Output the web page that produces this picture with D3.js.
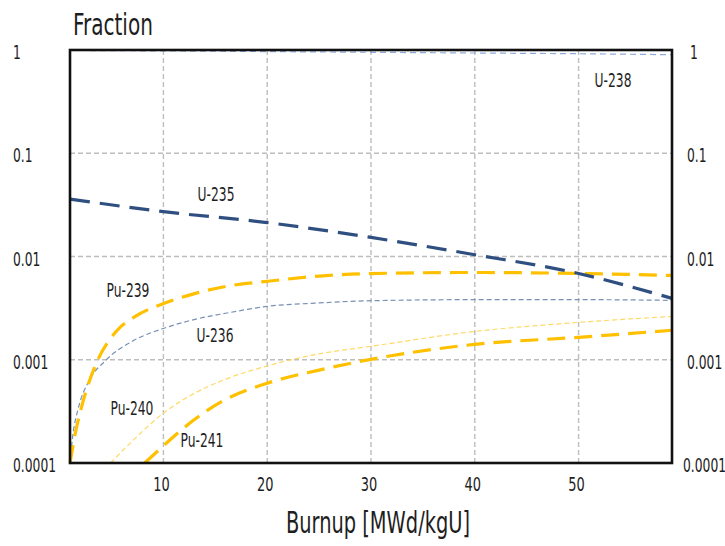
<!DOCTYPE html>
<html>
<head>
<meta charset="utf-8">
<script src="https://cdn.jsdelivr.net/npm/d3@7"></script>
<style>
body { margin: 0; background: #fff; }
text { font-family: "DejaVu Sans Condensed", "DejaVu Sans", sans-serif; font-stretch: condensed; fill: #1e1e1e; }
</style>
</head>
<body>
<div id="chart"></div>
<script>
// tick labels
var xTicks = [10, 20, 30, 40, 50];
var yTicks = [1, 0.1, 0.01, 0.001, 0.0001];
var yTickLabels = ["1", "0.1", "0.01", "0.001", "0.0001"];

// nuclide fractions vs burnup, [burnup MWd/kgU, fraction]
var u238 = [[1, 0.99], [10, 0.98], [20, 0.965], [30, 0.95], [40, 0.935], [50, 0.92], [59, 0.9]];
var u235 = [[1, 0.036], [10, 0.0272], [20, 0.0213], [30, 0.0153], [40, 0.0104], [50, 0.00685], [59, 0.00393]];
var pu239 = [[1, 0.0001], [1.5, 0.000191], [2, 0.000316], [2.5, 0.000479], [3.6, 0.000955], [5.4, 0.00186],
             [7.3, 0.00263], [9.9, 0.00347], [13, 0.00437], [16, 0.00513], [20, 0.00575], [25, 0.00646],
             [30, 0.00684], [40, 0.0070], [50, 0.00686], [59, 0.00655]];
var u236 = [[1, 0.0001], [1.25, 0.000178], [1.8, 0.000339], [2.8, 0.000617], [4.4, 0.000977], [7, 0.00151],
            [10, 0.00201], [13.4, 0.00251], [16, 0.00282], [20, 0.00329], [25, 0.00355], [30, 0.00373],
            [40, 0.00382], [50, 0.00382], [59, 0.00376]];
var pu240 = [[4.9, 0.0001], [7, 0.000163], [10, 0.000304], [13.4, 0.000497], [16, 0.000649], [20, 0.000871],
             [25, 0.00114], [30, 0.00135], [40, 0.00188], [50, 0.0023], [59, 0.00263]];
var pu241 = [[8.2, 0.0001], [10.2, 0.000153], [12.8, 0.000255], [15.7, 0.000398], [20, 0.000593],
             [25, 0.000794], [30, 0.00101], [40, 0.00141], [50, 0.00165], [59, 0.00193]];

var width = 725, height = 546;
var margin = {t: 50, r: 53, b: 83, l: 70};
var sx = 0.72; // squeeze text to look like the narrow original font

var svg = d3.select("#chart").append("svg")
    .attr("width", width)
    .attr("height", height);

var x = d3.scaleLinear().domain([1, 59]).range([margin.l, width - margin.r]);
var y = d3.scaleLog().domain([0.0001, 1]).range([height - margin.b, margin.t]);

function label(tx, ty, str, size, anchor) {
    return svg.append("text")
        .attr("transform", "translate(" + tx + "," + ty + ") scale(" + sx + ",1)")
        .attr("font-size", size)
        .attr("text-anchor", anchor || "start")
        .text(str);
}

// grid
svg.selectAll(".vgrid").data(xTicks).enter().append("line")
    .attr("x1", function(d) { return x(d); })
    .attr("x2", function(d) { return x(d); })
    .attr("y1", y(1)).attr("y2", y(0.0001))
    .attr("stroke", "#bdbdbd").attr("stroke-width", 1.4)
    .attr("stroke-dasharray", "5,3");
svg.selectAll(".hgrid").data(yTicks.slice(1, 4)).enter().append("line")
    .attr("x1", x(1)).attr("x2", x(59))
    .attr("y1", function(d) { return y(d); })
    .attr("y2", function(d) { return y(d); })
    .attr("stroke", "#bdbdbd").attr("stroke-width", 1.4)
    .attr("stroke-dasharray", "5,3");

var line = d3.line()
    .x(function(d) { return x(d[0]); })
    .y(function(d) { return y(d[1]); })
    .curve(d3.curveMonotoneX);

var series = [
    {data: u238, color: "#8eaadb", w: 1.2, dash: "6,4"},
    {data: u236, color: "#7990b4", w: 1.2, dash: "5,3"},
    {data: pu240, color: "#ffd966", w: 1.2, dash: "5,3"},
    {data: pu241, color: "#ffc000", w: 3.2, dash: "18,9"},
    {data: pu239, color: "#ffc000", w: 3.2, dash: "18,9"},
    {data: u235, color: "#2f4f80", w: 3.2, dash: "20,10"}
];

svg.selectAll(".curve").data(series).enter().append("path")
    .attr("d", function(d) { return line(d.data); })
    .attr("fill", "none")
    .attr("stroke", function(d) { return d.color; })
    .attr("stroke-width", function(d) { return d.w; })
    .attr("stroke-dasharray", function(d) { return d.dash; });

// frame
svg.append("rect")
    .attr("x", x(1)).attr("y", y(1))
    .attr("width", x(59) - x(1)).attr("height", y(0.0001) - y(1))
    .attr("fill", "none").attr("stroke", "#111").attr("stroke-width", 2.6);

// x tick labels
xTicks.forEach(function(d) { label(x(d) - 2, 491, d, 20, "middle"); });

// y tick labels, left and right
yTicks.forEach(function(d, i) {
    label(13, y(d) + 9, yTickLabels[i], 19);
    label(i == 0 ? 690 : (i == 4 ? 683 : 687), y(d) + 9, yTickLabels[i], 19);
});

// titles
label(73, 35, "Fraction", 31);
label(378, 533, "Burnup [MWd/kgU]", 30, "middle");

// series labels
var labels = [
    {t: "U-238", x: 613, y: 87},
    {t: "U-235", x: 216, y: 201},
    {t: "Pu-239", x: 128, y: 297},
    {t: "U-236", x: 215, y: 342},
    {t: "Pu-240", x: 132, y: 415},
    {t: "Pu-241", x: 202, y: 447}
];
labels.forEach(function(d) { label(d.x, d.y, d.t, 19, "middle"); });
</script>
</body>
</html>
